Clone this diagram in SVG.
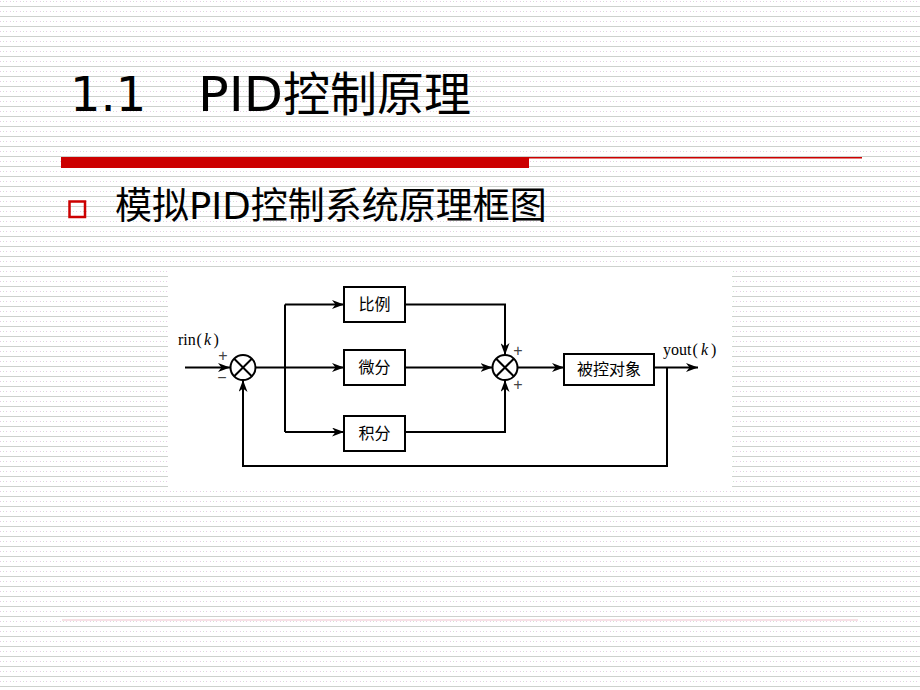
<svg xmlns="http://www.w3.org/2000/svg" width="920" height="690" viewBox="0 0 920 690">
  <defs>
    <pattern id="bg" x="0" y="0" width="10" height="10" patternUnits="userSpaceOnUse">
      <rect width="10" height="10" fill="#ffffff"/>
      <rect x="0" y="6" width="10" height="1" fill="#cdd1cd"/>
      <rect x="0" y="1" width="1" height="1" fill="#e8cce8"/>
      <rect x="3" y="1" width="1" height="1" fill="#d0e8d0"/>
      <rect x="6" y="1" width="1" height="1" fill="#e8cce8"/>
    </pattern>
    <marker id="arr" markerUnits="userSpaceOnUse" markerWidth="13" markerHeight="9" refX="12" refY="4.5" orient="auto">
      <path d="M0,0 L12,4.5 L0,9 L3.5,4.5 z" fill="#000"/>
    </marker>
    <style>
      .ln { fill: none; stroke: #000; stroke-width: 2; }
      .box { fill: #fff; stroke: #000; stroke-width: 2; }
      .cjk { font-family: "Noto Sans CJK SC", sans-serif; font-size: 16px; fill: #000; text-anchor: middle; }
      .ser { font-family: "Liberation Serif", serif; font-size: 16px; fill: #000; }
      .sgn { font-family: "Liberation Sans", sans-serif; font-size: 16px; fill: #444; text-anchor: middle; }
    </style>
  </defs>
  <rect width="920" height="690" fill="url(#bg)"/>

  <g id="title">
    <text x="70" y="111" font-family="DejaVu Sans, sans-serif" font-size="48" fill="#000">1.1</text>
    <text x="198" y="111" font-family="DejaVu Sans, sans-serif" font-size="48" fill="#000" textLength="85" lengthAdjust="spacingAndGlyphs">PID</text>
    <text x="283" y="111" font-family="Noto Sans CJK SC, sans-serif" font-size="47" fill="#000">控制原理</text>
  </g>
  <g id="rule">
    <rect x="61" y="157" width="468" height="11" fill="#cc0000"/>
    <rect x="529" y="157" width="333" height="1.5" fill="#cc0000"/>
    <rect x="62" y="619.5" width="796" height="1" fill="#f0c4cc"/>
  </g>
  <g id="bullet">
    <rect x="69.5" y="201.5" width="15.5" height="15.5" fill="none" stroke="#cc0000" stroke-width="2.5"/>
    <text x="115" y="219" font-family="Noto Sans CJK SC, sans-serif" font-size="37" fill="#000">模拟<tspan font-family="DejaVu Sans, sans-serif">PID</tspan>控制系统原理框图</text>
  </g>

  <rect id="panel" x="168" y="271" width="564" height="218" fill="#ffffff"/>

  <g id="connectors">
    <path class="ln" d="M185,367.5 H230" marker-end="url(#arr)"/>
    <path class="ln" d="M255.5,367.5 H285"/>
    <path class="ln" d="M285,304.5 V432"/>
    <path class="ln" d="M285,304.5 H344" marker-end="url(#arr)"/>
    <path class="ln" d="M285,367.5 H344" marker-end="url(#arr)"/>
    <path class="ln" d="M285,432 H344" marker-end="url(#arr)"/>
    <path class="ln" d="M405,304.5 H505 V355" marker-end="url(#arr)"/>
    <path class="ln" d="M405,367.5 H492.5" marker-end="url(#arr)"/>
    <path class="ln" d="M405,432 H505 V380" marker-end="url(#arr)"/>
    <path class="ln" d="M517.5,367.5 H564" marker-end="url(#arr)"/>
    <path class="ln" d="M654,367.5 H698" marker-end="url(#arr)"/>
    <path class="ln" d="M667,367.5 V466 H243 V380" marker-end="url(#arr)"/>
  </g>

  <g id="sum1">
    <circle cx="243" cy="367.5" r="12.5" class="ln"/>
    <path class="ln" d="M234.2,358.7 L251.8,376.3 M251.8,358.7 L234.2,376.3" stroke-width="1.6"/>
    <text class="sgn" x="223" y="361">+</text>
    <text class="sgn" x="222" y="383">−</text>
  </g>
  <g id="sum2">
    <circle cx="505" cy="367.5" r="12.5" class="ln"/>
    <path class="ln" d="M496.2,358.7 L513.8,376.3 M513.8,358.7 L496.2,376.3" stroke-width="1.6"/>
    <text class="sgn" x="518" y="356">+</text>
    <text class="sgn" x="518" y="390">+</text>
  </g>
  <g id="p">
    <rect class="box" x="344" y="287" width="61" height="35"/>
    <text class="cjk" x="374.5" y="310">比例</text>
  </g>
  <g id="d">
    <rect class="box" x="344" y="350" width="61" height="35"/>
    <text class="cjk" x="374.5" y="373">微分</text>
  </g>
  <g id="i">
    <rect class="box" x="344" y="416" width="61" height="35"/>
    <text class="cjk" x="374.5" y="439">积分</text>
  </g>
  <g id="plant">
    <rect class="box" x="564" y="354" width="90" height="31"/>
    <text class="cjk" x="609" y="375">被控对象</text>
  </g>
  <g id="rin">
    <text class="ser" x="178" y="345">rin<tspan x="196.5">(</tspan><tspan x="204" font-style="italic">k</tspan><tspan x="213.5">)</tspan></text>
  </g>
  <g id="yout">
    <text class="ser" x="663" y="355">yout<tspan x="692.5">(</tspan><tspan x="701" font-style="italic">k</tspan><tspan x="711">)</tspan></text>
  </g>
</svg>
